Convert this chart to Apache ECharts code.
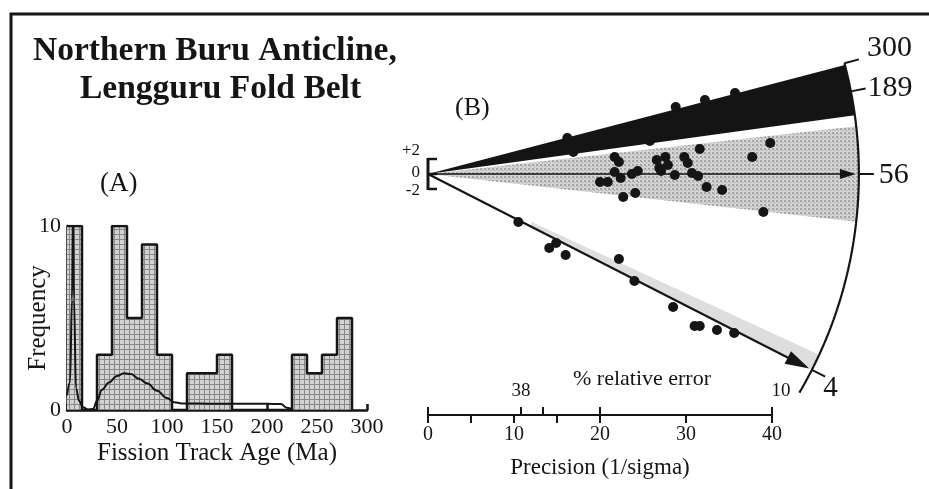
<!DOCTYPE html>
<html><head><meta charset="utf-8">
<script src="https://cdn.jsdelivr.net/npm/echarts@6/dist/echarts.min.js"></script>
<style>html,body{margin:0;padding:0;background:#fff}#c{width:929px;height:489px}</style>
</head><body><div id="c"></div>
<script>
// ---------- Panel A: histogram of fission-track ages ----------
const ageBinEdges = [0,15,30,45,60,75,90,105,120,135,150,165,180,195,210,225,240,255,270,285];
const binCounts   = [10,0,3,10,5,9,3,0,2,2,3,0,0,0,0,3,2,3,5];
const densityAge  = [0,3,5,6,7,9,12,16,21,26,30,35,42,50,57,64,72,80,90,100,107,115,150,200,214,220,226];
const densityFreq = [0.8,1.5,6,11,6,1.2,0.5,0.15,0.03,0.05,0.5,1.1,1.5,1.85,2.0,1.95,1.7,1.45,1.05,0.65,0.42,0.36,0.34,0.34,0.32,0.12,0];

// ---------- Panel B: radial plot ----------
const grainPrecision = [21.7,22.2,21.7,22.4,20.0,20.9,23.7,24.4,22.7,24.1,26.6,27.6,26.9,27.9,27.1,28.7,29.8,30.2,30.7,31.4,31.6,32.4,34.2,37.7,39.8,39.0,
                        16.2,16.9,25.8,28.8,32.2,35.7,
                        10.5,14.9,14.1,16.0,22.2,24.0,28.5,31.0,31.6,33.6,35.6];
const grainZ         = [2.27,1.6,0.27,-0.53,-1.07,-1.07,0.0,0.4,-3.07,-2.53,1.87,2.27,0.8,1.2,0.4,-0.13,2.27,1.47,0.13,-0.27,3.33,-1.73,-2.13,2.27,4.13,-5.07,
                        4.8,2.93,4.4,8.93,9.87,10.8,
                        -6.4,-9.2,-9.87,-10.8,-11.33,-14.27,-17.73,-20.27,-20.27,-20.8,-21.2];
// shaded sectors (slopes from the origin) : 189 Ma component, 56 Ma component, 4 Ma component band
const sectorLowerSlope = [0.158,-0.128,-0.585];
const sectorUpperSlope = [0.30,0.128,-0.53];
const sectorStart      = [0,0,12];
// age scale on the arc
const arcScaleLabels = ['300','189','56','4','10'];
const arcScaleSlopes = [0.305,0.224,0,-0.585,-0.675];
const arcScaleTicked = [true,true,true,true,false];
const arrowSlopes = [0,-0.585];
// standardised estimate scale at the origin
const zTicks = [2,0,-2];
const zTickLabels = ['+2','0','-2'];
// precision axis
const precisionTicks  = [0,5,10,15,20,30,40];
const precisionLabels = [0,10,20,30,40];
const relErrTicks  = [0,10.8,13.4,20,40];
const relErrLabelPos = [10.8];
const relErrLabelText = ['38'];

// ---------- drawing ----------
const FONT = '"Liberation Serif", "DejaVu Serif", serif';
const INK = '#151515';
const ARC_RX = 50.1, ARC_RY = 57.5;
function arcPoint(s, f){ f = f||1; const t = Math.atan(s*ARC_RX/ARC_RY); return [f*ARC_RX*Math.cos(t), f*ARC_RY*Math.sin(t)]; }
function arcPoints(s1, s2, n){
  const t1 = Math.atan(s1*ARC_RX/ARC_RY), t2 = Math.atan(s2*ARC_RX/ARC_RY), out=[];
  for (let i=0;i<=n;i++){ const t=t1+(t2-t1)*i/n; out.push([ARC_RX*Math.cos(t), ARC_RY*Math.sin(t)]); }
  return out;
}

const pat = document.createElement('canvas'); pat.width=5; pat.height=5;
(function(){ const g=pat.getContext('2d'); g.fillStyle='#d2d2d2'; g.fillRect(0,0,5,5); g.fillStyle='#888888'; g.fillRect(0,4,5,1); g.fillRect(4,0,1,5); })();
const dots = document.createElement('canvas'); dots.width=4; dots.height=4;
(function(){ const g=dots.getContext('2d'); g.fillStyle='#d4d4d4'; g.fillRect(0,0,4,4); g.fillStyle='#a4a4a4'; g.fillRect(0,0,2,2); g.fillRect(2,2,1,1); })();

const histData = binCounts.map((c,i)=>[ageBinEdges[i], c]);
histData.push([ageBinEdges[ageBinEdges.length-1], 0]);
const densityData = densityAge.map((a,i)=>[a, densityFreq[i]]);
const grainData = grainPrecision.map((p,i)=>[p, grainZ[i]]);
const arcData = arcPoints(arcScaleSlopes[0], arcScaleSlopes[arcScaleSlopes.length-1], 80);

const sectorFill = ['#141414',{image:dots, repeat:'repeat'},'#dedede'];
const arrowSize = [[16,5],[24,7]];
const arrowWidth = [1.6,2.2];
const arcLabelCfg = {
  '300':{dx:8,dy:4,va:'bottom',size:30,align:'left'},
  '189':{dx:2,dy:0,va:'middle',size:30,align:'left'},
  '56': {dx:5,dy:1,va:'middle',size:30,align:'left'},
  '4':  {dx:-2,dy:-3,va:'top',size:29,align:'left'},
  '10': {dx:-9,dy:-2,va:'middle',size:19,align:'right'}
};
const zLabelDy = [-8,-1,2];

const chart = echarts.init(document.getElementById('c'), null, {renderer:'canvas'});
const txt = (s)=>Object.assign({color:INK, fontFamily:FONT}, s);

chart.setOption({
  animation:false,
  backgroundColor:'#fff',
  grid:[
    {left:67, top:226, width:300, height:184},
    {left:428, top:24, width:473, height:390},
    {left:428, top:405, width:344, height:10}
  ],
  xAxis:[
    {gridIndex:0, type:'value', min:0, max:300, interval:50,
     axisLine:{show:true, lineStyle:{color:INK, width:2.5}},
     axisTick:{show:true, inside:true, length:6, lineStyle:{color:INK, width:2.5}},
     axisLabel:txt({fontSize:22, margin:6}), splitLine:{show:false},
     name:'Fission Track Age (Ma)', nameLocation:'middle', nameGap:31, nameMoveOverlap:false, nameTextStyle:txt({fontSize:25})},
    {gridIndex:1, type:'value', min:0, max:55, show:false},
    {gridIndex:2, type:'value', min:0, max:40,
     axisLine:{show:true, onZero:false, lineStyle:{color:INK, width:2}},
     axisTick:{show:true, customValues:precisionTicks, length:8, lineStyle:{color:INK, width:2}},
     axisLabel:txt({fontSize:20, margin:10, customValues:precisionLabels}), splitLine:{show:false},
     name:'Precision (1/sigma)', nameLocation:'middle', nameGap:41, nameMoveOverlap:false, nameTextStyle:txt({fontSize:23})},
    {gridIndex:2, type:'value', min:0, max:40, position:'bottom',
     axisLine:{show:false, onZero:false},
     axisTick:{show:true, inside:true, customValues:relErrTicks, length:8, lineStyle:{color:INK, width:2}},
     axisLabel:txt({fontSize:19, inside:true, margin:14, customValues:relErrLabelPos,
       formatter:(v)=>{ const k=relErrLabelPos.findIndex(p=>Math.abs(p-v)<1e-6); return k>=0?relErrLabelText[k]:''; }}),
     splitLine:{show:false}}
  ],
  yAxis:[
    {gridIndex:0, type:'value', min:0, max:10, interval:10,
     axisLine:{show:true, lineStyle:{color:INK, width:2.5}}, axisTick:{show:false},
     axisLabel:txt({fontSize:22, margin:6}), splitLine:{show:false},
     name:'Frequency', nameLocation:'middle', nameGap:16, nameRotate:90, nameMoveOverlap:false, nameTextStyle:txt({fontSize:25})},
    {gridIndex:1, type:'value', min:-32, max:20, show:false},
    {gridIndex:2, type:'value', min:0, max:1, show:false}
  ],
  series:[
    {type:'line', xAxisIndex:0, yAxisIndex:0, data:histData, step:'end', symbol:'none',
     lineStyle:{color:INK, width:2.5}, areaStyle:{color:{image:pat, repeat:'repeat'}, opacity:1, origin:'start'}, z:2},
    {type:'line', xAxisIndex:0, yAxisIndex:0, data:densityData, smooth:0.4, smoothMonotone:'x', symbol:'none',
     lineStyle:{color:INK, width:2}, z:3},
    {type:'custom', xAxisIndex:1, yAxisIndex:1, data:sectorLowerSlope.map(()=>[0,0]), z:1, silent:true,
     renderItem:(params, api)=>{
       const i=params.dataIndex, lo=sectorLowerSlope[i], hi=sectorUpperSlope[i], x0=sectorStart[i];
       const pts=[];
       if (x0===0) pts.push(api.coord([0,0])); else { pts.push(api.coord([x0, lo*x0])); pts.push(api.coord([x0, hi*x0])); }
       arcPoints(hi, lo, 40).forEach(p=>pts.push(api.coord(p)));
       return {type:'polygon', shape:{points:pts}, style:{fill:sectorFill[i]}};
     }},
    {type:'line', xAxisIndex:1, yAxisIndex:1, data:arcData, symbol:'none', smooth:false,
     lineStyle:{color:INK, width:2.2}, z:3},
    {type:'custom', xAxisIndex:1, yAxisIndex:1, data:arrowSlopes.map(()=>[0,0]), z:4, silent:true,
     renderItem:(params, api)=>{
       const i=params.dataIndex, s=arrowSlopes[i];
       const p0=api.coord([0,0]), p1=api.coord(arcPoint(s,0.993));
       const dx=p1[0]-p0[0], dy=p1[1]-p0[1], L=Math.hypot(dx,dy), ux=dx/L, uy=dy/L;
       const hl=arrowSize[i][0], hw=arrowSize[i][1], b=[p1[0]-ux*hl, p1[1]-uy*hl];
       return {type:'group', children:[
         {type:'line', shape:{x1:p0[0],y1:p0[1],x2:b[0]+ux*2,y2:b[1]+uy*2}, style:{stroke:INK, lineWidth:arrowWidth[i]}},
         {type:'polygon', shape:{points:[p1,[b[0]-uy*hw,b[1]+ux*hw],[b[0]+uy*hw,b[1]-ux*hw]]}, style:{fill:INK}}
       ]};
     }},
    {type:'custom', xAxisIndex:1, yAxisIndex:1, data:arcScaleLabels.map(()=>[0,0]), z:4, silent:true,
     renderItem:(params, api)=>{
       const i=params.dataIndex, s=arcScaleSlopes[i], lab=arcScaleLabels[i], c=arcLabelCfg[lab];
       const o=api.coord([0,0]), p=api.coord(arcPoint(s));
       const dx=p[0]-o[0], dy=p[1]-o[1], L=Math.hypot(dx,dy), ux=dx/L, uy=dy/L;
       const tl = arcScaleTicked[i]?15:0;
       const e=[p[0]+ux*tl, p[1]+uy*tl];
       const kids=[];
       if (arcScaleTicked[i]) kids.push({type:'line', shape:{x1:p[0],y1:p[1],x2:e[0],y2:e[1]}, style:{stroke:INK, lineWidth:2}});
       kids.push({type:'text', x:e[0]+c.dx, y:e[1]+c.dy,
         style:{text:lab, fill:INK, font:c.size+'px '+FONT, align:c.align, verticalAlign:c.va}});
       return {type:'group', children:kids};
     }},
    // "E" scale of standardised estimate (+2 / 0 / -2) at the origin
    {type:'custom', xAxisIndex:1, yAxisIndex:1, data:[[0,0]], z:6, silent:true,
     renderItem:(params, api)=>{
       const top=api.coord([0, zTicks[0]]), bot=api.coord([0, zTicks[zTicks.length-1]]);
       const kids=[{type:'line', shape:{x1:top[0],y1:top[1]-1,x2:bot[0],y2:bot[1]+1}, style:{stroke:INK, lineWidth:3}}];
       zTicks.forEach((z,k)=>{
         const p=api.coord([0,z]);
         kids.push({type:'line', shape:{x1:p[0],y1:p[1],x2:p[0]+9,y2:p[1]}, style:{stroke:INK, lineWidth:2.5}});
         kids.push({type:'text', x:p[0]-8, y:p[1]+zLabelDy[k], style:{text:zTickLabels[k], fill:INK, font:'17px '+FONT, align:'right', verticalAlign:'middle'}});
       });
       return {type:'group', children:kids};
     }},
    {type:'scatter', xAxisIndex:1, yAxisIndex:1, data:grainData, symbol:'circle', symbolSize:10,
     itemStyle:{color:INK, opacity:1}, z:5}
  ],
  graphic:[
    {type:'polyline', shape:{points:[[11,489],[11,14],[929,14]]}, style:{stroke:INK, lineWidth:3, fill:null}},
    {type:'text', x:33, y:51, style:{text:'Northern Buru Anticline,', font:'bold 33.5px '+FONT, fill:INK, verticalAlign:'middle'}},
    {type:'text', x:80, y:89, style:{text:'Lengguru Fold Belt', font:'bold 33.5px '+FONT, fill:INK, verticalAlign:'middle'}},
    {type:'text', x:100, y:184, style:{text:'(A)', font:'27px '+FONT, fill:INK, verticalAlign:'middle'}},
    {type:'text', x:455, y:108, style:{text:'(B)', font:'26px '+FONT, fill:INK, verticalAlign:'middle'}},
    {type:'text', x:642, y:379, style:{text:'% relative error', font:'22px '+FONT, fill:INK, align:'center', verticalAlign:'middle'}}
  ]
});
</script></body></html>
